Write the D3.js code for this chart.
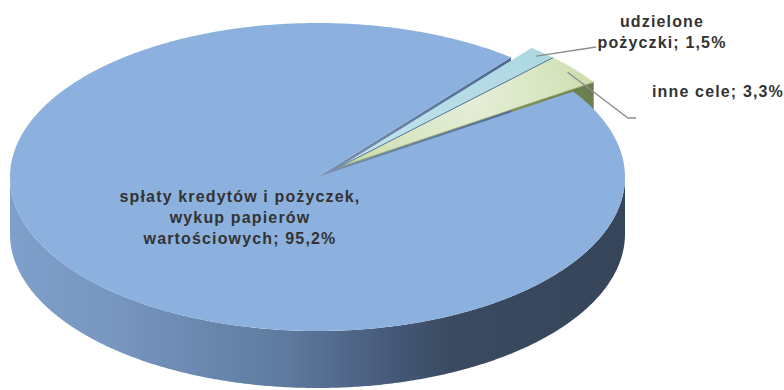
<!DOCTYPE html>
<html>
<head>
<meta charset="utf-8">
<script src="https://cdn.jsdelivr.net/npm/d3@7"></script>
<style>
  body { margin: 0; background: #ffffff; }
  svg { display: block; }
  text { font-family: "Liberation Sans", Arial, sans-serif; font-weight: bold; fill: #333333; }
</style>
</head>
<body>
<svg id="chart" width="784" height="390"></svg>
<script>
// Slice order runs clockwise from the first slice angle
const categories = ["udzielone pożyczki", "inne cele", "spłaty kredytów i pożyczek, wykup papierów wartościowych"];
const categoryLines = [
  ["udzielone", "pożyczki"],
  ["inne cele"],
  ["spłaty kredytów i pożyczek,", "wykup papierów", "wartościowych"]
];
const values = [1.5, 3.3, 95.2];
const exploded = [true, true, false];

const topColors = ["#b6dde7", "#d3e2b6", "#8cb1de"];
const wallColors = [["#7e9db4", "#4f7590"], ["#a3c05c", "#6b7b4f"], ["#7d92b2", "#4d6691"]];

// layout of the tilted pie
const cx = 317.5, cy = 177, rx = 307.5, ry = 154, depth = 57;
const firstAngle = 39 * Math.PI / 180;
const explodeFrac = 0.09;

const svg = d3.select("#chart");
const defs = svg.append("defs");

const x = d3.scaleLinear().domain([-1, 1]).range([cx - rx, cx + rx]);
const y = d3.scaleLinear().domain([-1, 1]).range([cy - ry, cy + ry]);

const pl = d3.formatLocale({ decimal: ",", thousands: " ", grouping: [3], currency: ["", " zł"] });
const fmt = pl.format(".1f");

const pie = d3.pie().sort(null).value(d => d)
  .startAngle(firstAngle).endAngle(firstAngle + 2 * Math.PI);
const arcs = pie(values).map((a, i) => Object.assign(a, { i }));

// exploded slices move together along their shared middle angle
const exp = arcs.filter(a => exploded[a.i]);
const expMid = (d3.min(exp, a => a.startAngle) + d3.max(exp, a => a.endAngle)) / 2;
arcs.forEach(a => {
  const k = exploded[a.i] ? explodeFrac : 0;
  a.ox = x(k * Math.sin(expMid)) - cx;
  a.oy = y(-k * Math.cos(expMid)) - cy;
});

const pt = (a, r, s, dz = 0) => [x(r * Math.sin(a)) + s.ox, y(-r * Math.cos(a)) + s.oy + dz];
function arcPts(a0, a1, s, dz = 0) {
  const n = Math.max(2, Math.ceil(Math.abs(a1 - a0) / (Math.PI / 360)) + 1);
  return d3.range(n).map(j => pt(a0 + (a1 - a0) * j / (n - 1), 1, s, dz));
}
const closed = d3.line().curve(d3.curveLinearClosed);

// gradients
const sideGrad = defs.append("linearGradient").attr("id", "sideGrad")
  .attr("gradientUnits", "userSpaceOnUse")
  .attr("x1", cx - rx).attr("x2", cx + rx).attr("y1", 0).attr("y2", 0);
[[0, "#7fa0cb"], [0.18, "#7695bf"], [0.45, "#5e7a9e"], [0.62, "#46597a"], [0.72, "#3a4a60"], [1, "#36455a"]]
  .forEach(([o, c]) => sideGrad.append("stop").attr("offset", o).attr("stop-color", c));

const greenTop = defs.append("radialGradient").attr("id", "greenTop")
  .attr("gradientUnits", "userSpaceOnUse").attr("cx", 470).attr("cy", 100).attr("r", 150);
[[0, "#e6eed8"], [0.6, "#d6e4bd"], [1, "#c4d79c"]]
  .forEach(([o, c]) => greenTop.append("stop").attr("offset", o).attr("stop-color", c));

const blueTop = defs.append("linearGradient").attr("id", "cyanTop")
  .attr("x1", 0).attr("x2", 1).attr("y1", 1).attr("y2", 0);
[[0, "#c2e3eb"], [1, "#acd7e2"]]
  .forEach(([o, c]) => blueTop.append("stop").attr("offset", o).attr("stop-color", c));
const topFill = ["url(#cyanTop)", "url(#greenTop)", topColors[2]];

const gWalls = svg.append("g"), gSides = svg.append("g"), gTops = svg.append("g"), gLabels = svg.append("g");

// radial walls facing the viewer
arcs.forEach(s => {
  [[s.startAngle, Math.sin(s.startAngle) < 0], [s.endAngle, Math.sin(s.endAngle) > 0]].forEach(([a, vis], w) => {
    if (!vis) return;
    const c0 = pt(a, 0, s), c1 = pt(a, 1, s);
    const id = "wall" + s.i + "_" + w;
    const g = defs.append("linearGradient").attr("id", id).attr("gradientUnits", "userSpaceOnUse")
      .attr("x1", c0[0]).attr("y1", c0[1]).attr("x2", c1[0]).attr("y2", c1[1]);
    g.append("stop").attr("offset", 0).attr("stop-color", wallColors[s.i][0]);
    g.append("stop").attr("offset", 1).attr("stop-color", wallColors[s.i][1]);
    gWalls.append("path")
      .attr("d", closed([c0, c1, pt(a, 1, s, depth), pt(a, 0, s, depth)]))
      .attr("fill", `url(#${id})`);
  });
});

// outer curved sides (front half only)
arcs.forEach(s => {
  [0, 1].forEach(k => {
    const lo = Math.max(s.startAngle, Math.PI / 2 + 2 * Math.PI * k);
    const hi = Math.min(s.endAngle, 3 * Math.PI / 2 + 2 * Math.PI * k);
    if (lo >= hi) return;
    const pts = arcPts(lo, hi, s).concat(arcPts(hi, lo, s, depth));
    gSides.append("path").attr("d", closed(pts))
      .attr("fill", s.i === 2 ? "url(#sideGrad)" : wallColors[s.i][1]);
  });
});

// top faces, exploded slices first
arcs.slice().sort((a, b) => exploded[b.i] - exploded[a.i]).forEach(s => {
  const pts = [pt(0, 0, s)].concat(arcPts(s.startAngle, s.endAngle, s));
  gTops.append("path").attr("d", closed(pts)).attr("fill", topFill[s.i]);
});

// thin edges along the small slices
const edge = d3.line();
gTops.append("path")
  .attr("d", edge([pt(arcs[0].endAngle, 0, arcs[0]), pt(arcs[0].endAngle, 1, arcs[0])]))
  .attr("stroke", "#55789a").attr("stroke-width", 1).attr("fill", "none");
gTops.append("path")
  .attr("d", edge([pt(arcs[1].endAngle, 0, arcs[1]), pt(arcs[1].endAngle, 1, arcs[1])]))
  .attr("stroke", "#8fa46a").attr("stroke-width", 0.8).attr("fill", "none");

// labels
const labelPos = [
  { x: 662, y: 27, anchor: "middle", leader: [[596, 47]] },
  { x: 652, y: 97, anchor: "start", leader: [[628, 118], [636, 118]] },
  { x: 240, y: 202, anchor: "middle", leader: null }
];
arcs.forEach(s => {
  const L = labelPos[s.i];
  const lines = categoryLines[s.i].slice();
  lines[lines.length - 1] += "; " + fmt(values[s.i]) + "%";
  const t = gLabels.append("text").attr("x", L.x).attr("y", L.y)
    .attr("text-anchor", L.anchor)
    .style("font-size", "16px").style("letter-spacing", "1.15px");
  lines.forEach((ln, j) => t.append("tspan").attr("x", L.x).attr("dy", j ? 21 : 0).text(ln));
  if (L.leader) {
    const mid = (s.startAngle + s.endAngle) / 2;
    const start = pt(mid, 0.97, s);
    gLabels.append("path").attr("d", d3.line()([start].concat(L.leader)))
      .attr("fill", "none").attr("stroke", "#8c8c8c").attr("stroke-width", 1.3);
  }
});
</script>
</body>
</html>
